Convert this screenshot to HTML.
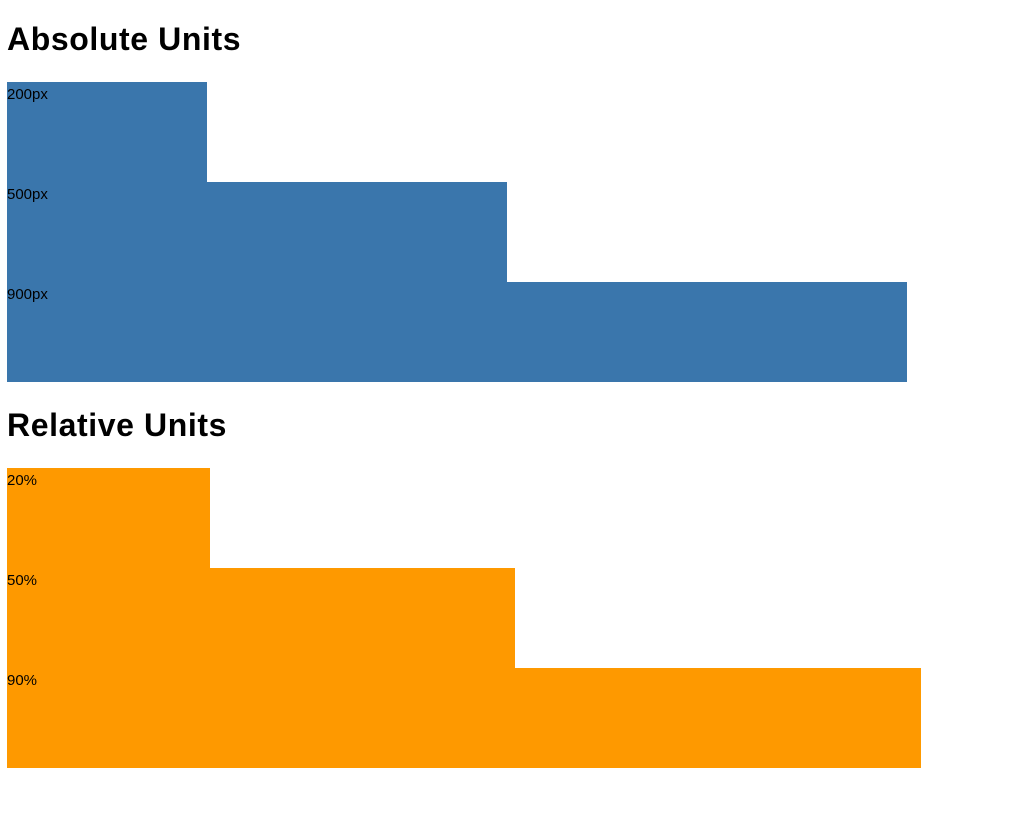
<!DOCTYPE html>
<html><head><meta charset="utf-8"><style>
html,body{margin:0;padding:0;background:#fff;width:1024px;height:822px;overflow:hidden;font-family:"Liberation Sans",sans-serif;}
h2{position:absolute;left:7px;margin:0;font-size:32px;font-weight:bold;color:#000;line-height:36px;letter-spacing:0.6px;}
.bar{position:absolute;left:7px;height:100px;font-size:15px;line-height:22px;color:#000;}
.bar span{position:relative;top:2px;}
</style></head><body>
<h2 style="top:21px">Absolute Units</h2>
<h2 style="top:407px">Relative Units</h2>
<div id="root"></div>
<script>
const absValues = [200, 500, 900];
const absLabels = ["200px", "500px", "900px"];
const relValues = [20, 50, 90];
const relLabels = ["20%", "50%", "90%"];
const root = document.getElementById('root');
const containerW = 1015;
function draw(vals, labels, top, color, toPx, prefix){
  vals.forEach((v,i)=>{
    const d=document.createElement('div');
    d.className='bar';
    
    
    d.style.top=(top+i*100)+'px';
    d.style.width=toPx(v)+'px';
    d.style.background=color;
    const s=document.createElement('span');
    
    
    s.textContent=labels[i];
    d.appendChild(s);
    root.appendChild(d);
  });
}
draw(absValues, absLabels, 82, '#3a76ac', v=>v, 'absolute');
draw(relValues, relLabels, 468, '#fe9900', v=>v/100*containerW, 'relative');
</script>
</body></html>
